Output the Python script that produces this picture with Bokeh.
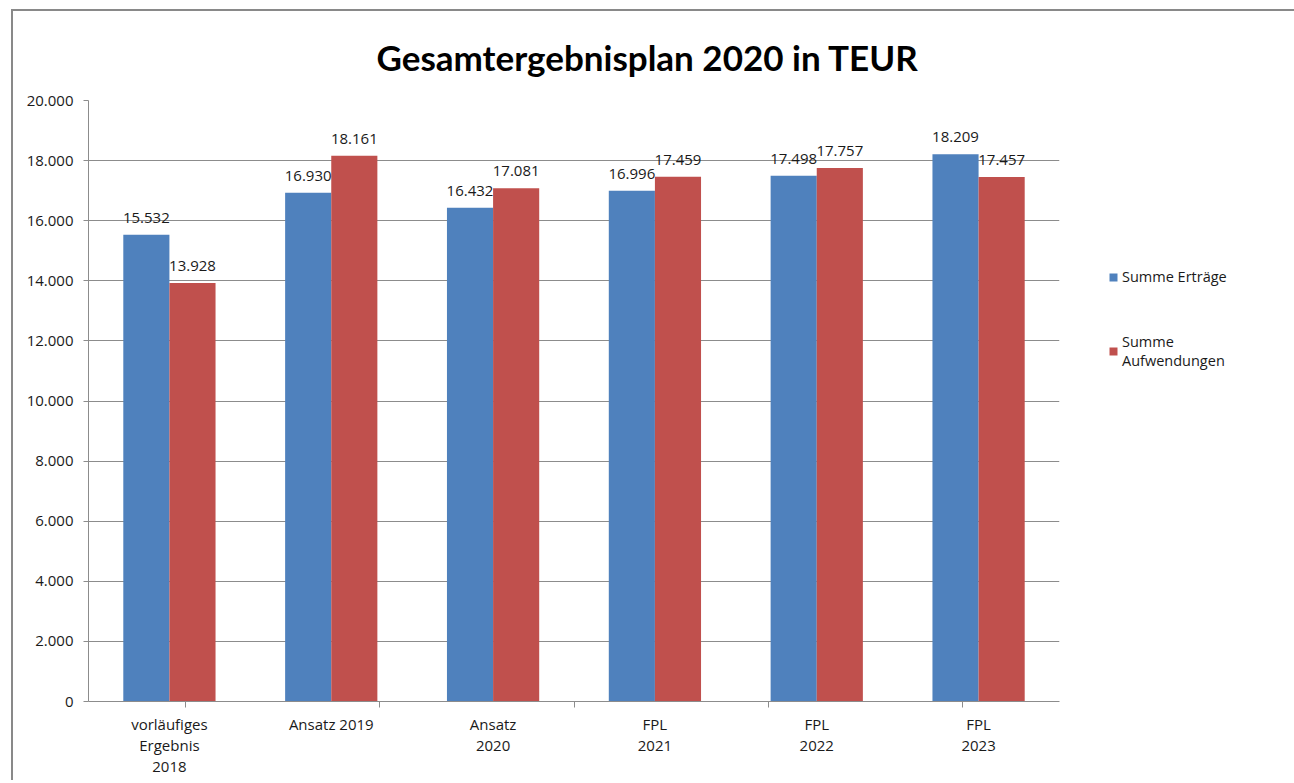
from bokeh.plotting import figure
from bokeh.models import (ColumnDataSource, FactorRange, Range1d, CategoricalAxis,
                          FixedTicker, Legend, LegendItem, Title)
from bokeh.transform import dodge
from bokeh.embed import file_html
from bokeh.resources import INLINE
from bokeh.core.properties import value

# ---- data ----
categories = ["vorläufiges\nErgebnis\n2018", "Ansatz 2019", "Ansatz\n2020", "FPL\n2021", "FPL\n2022", "FPL\n2023"]
ertraege = [15532, 16930, 16432, 16996, 17498, 18209]
aufwendungen = [13928, 18161, 17081, 17459, 17757, 17457]
series_names = ["Summe Erträge", "Summe\nAufwendungen"]
y_ticks = [0, 2000, 4000, 6000, 8000, 10000, 12000, 14000, 16000, 18000, 20000]
title_text = "Gesamtergebnisplan 2020 in TEUR"


def de(v):
    return f"{v:,}".replace(",", ".")


FONT = "Open Sans"
BLUE = "#4F81BD"
RED = "#C0504D"
GRID = "#8C8C8C"
TXT = "#1a1a1a"

src = ColumnDataSource(dict(
    cat=categories, e=ertraege, a=aufwendungen,
    el=[de(v) for v in ertraege], al=[de(v) for v in aufwendungen]))

p = figure(x_range=FactorRange(*categories, range_padding=0, factor_padding=0),
           y_range=Range1d(0, 20000),
           width=1275, height=768, frame_width=971, frame_height=601,
           output_backend="svg", toolbar_location=None,
           x_axis_location=None,
           min_border_left=75, min_border_right=229, min_border_top=88, min_border_bottom=79)
# boundary positions between the categories (tick marks only)
bounds = [f"b{i}" for i in range(len(categories) + 1)]
p.extra_x_ranges = {"bounds": FactorRange(*bounds, range_padding=-1, range_padding_units="absolute",
                                          factor_padding=0)}
p.styles = {"border-top": "2px solid #898989", "border-left": "2px solid #898989",
            "border-right": "2px solid #898989", "margin-top": "9px", "margin-left": "11px"}

p.outline_line_color = None
p.background_fill_color = "white"
p.border_fill_color = "white"

bw = 0.285
r1 = p.vbar(x=dodge("cat", -bw / 2, range=p.x_range), top="e", width=bw, source=src,
            fill_color=BLUE, line_color=None)
r2 = p.vbar(x=dodge("cat", bw / 2, range=p.x_range), top="a", width=bw, source=src,
            fill_color=RED, line_color=None)

p.text(x=dodge("cat", -bw / 2, range=p.x_range), y="e", text="el", source=src,
       text_align="center", text_baseline="bottom", y_offset=-12,
       text_font=value(FONT), text_font_size="15px", text_color=TXT)
p.text(x=dodge("cat", bw / 2, range=p.x_range), y="a", text="al", source=src,
       text_align="center", text_baseline="bottom", y_offset=-12,
       text_font=value(FONT), text_font_size="15px", text_color=TXT)

# y axis
p.yaxis.ticker = FixedTicker(ticks=y_ticks)
p.yaxis.major_label_overrides = {v: de(v) for v in y_ticks}
p.yaxis.axis_line_color = GRID
p.yaxis.major_tick_line_color = GRID
p.yaxis.major_tick_out = 5
p.yaxis.major_tick_in = 0
p.yaxis.minor_tick_line_color = None
p.yaxis.major_label_text_font = FONT
p.yaxis.major_label_text_font_size = "15px"
p.yaxis.major_label_text_color = TXT
p.yaxis.major_label_standoff = 10

p.ygrid.ticker = FixedTicker(ticks=y_ticks)
p.ygrid.grid_line_color = GRID
p.ygrid.grid_line_width = 1
p.xgrid.grid_line_color = None

# x axis: boundary ticks
bx = CategoricalAxis(x_range_name="bounds",
                     axis_line_color=GRID, major_tick_line_color=GRID, major_tick_out=6, major_tick_in=0,
                     minor_tick_line_color=None, major_label_text_font_size="0px",
                     major_label_text_color=None, major_label_standoff=0)
p.add_layout(bx, "below")
cx = CategoricalAxis(axis_line_color=None, major_tick_line_color=None, minor_tick_line_color=None,
                     major_label_text_font=FONT, major_label_text_font_size="15px",
                     major_label_text_color=TXT, major_label_standoff=0,
                     major_label_text_line_height=1.05)
p.add_layout(cx, "below")

# title
p.title = Title(text=title_text, text_font="Lato", text_font_size="35px", text_font_style="bold",
                align="left", offset=288, standoff=45, text_color="#000000")

legend = Legend(items=[LegendItem(label=series_names[0], renderers=[r1]),
                       LegendItem(label=series_names[1], renderers=[r2])],
                location=(49, 331), glyph_width=10, glyph_height=10, spacing=46,
                label_text_font=FONT, label_text_font_size="14.5px", label_text_color=TXT,
                border_line_color=None, background_fill_alpha=0, padding=0, margin=0,
                label_standoff=4)
p.add_layout(legend, "right")

open("out.html", "w").write(file_html(p, INLINE))
